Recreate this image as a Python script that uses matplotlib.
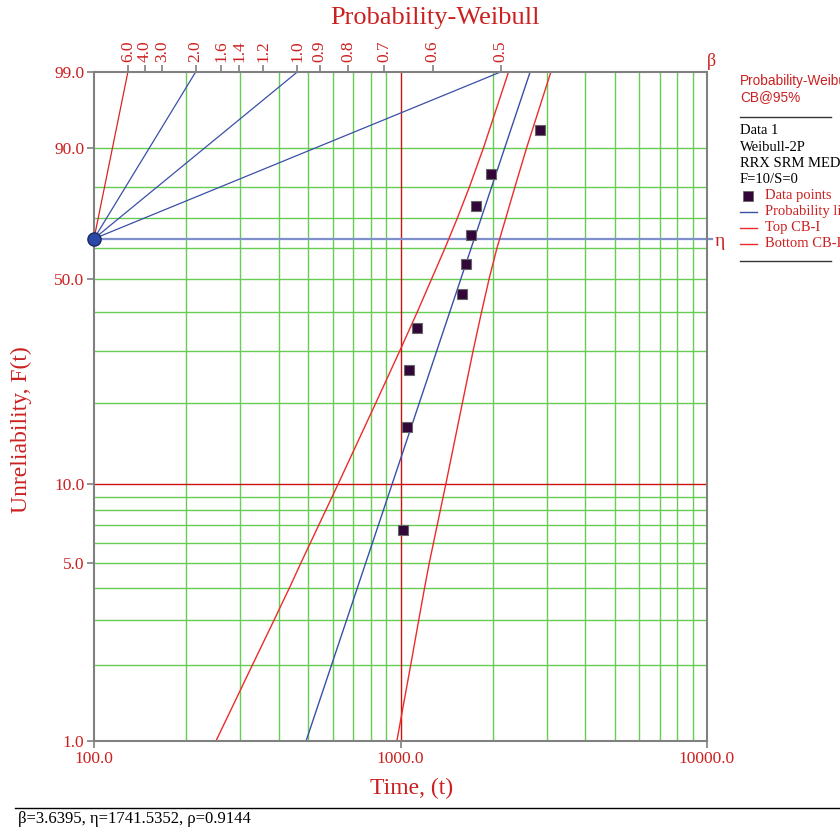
import numpy as np
import matplotlib
matplotlib.use("Agg")
import matplotlib.pyplot as plt
from matplotlib.lines import Line2D

# ---------------- data ----------------
beta_est, eta_est, rho_est = 3.6395, 1741.5352, 0.9144
data_t = [1020, 1048, 1067, 1130, 1592, 1637, 1699, 1768, 1968, 2858]
data_F = [6.73, 16.35, 25.96, 35.58, 45.19, 54.81, 64.42, 74.04, 83.65, 93.27]

fit_F = [1, 99]
fit_t = [492, 2648]

cb_F = [1, 2, 3, 4, 5, 10, 20, 30, 40, 50, 60, 70, 80, 90, 99]
top_cb_t = [250, 329, 387, 434, 473, 625, 832, 993, 1134, 1264, 1396, 1531, 1679, 1866, 2251]
bot_cb_t = [973, 1080, 1147, 1198, 1241, 1405, 1593, 1724, 1838, 1946, 2063, 2204, 2363, 2580, 3095]

y_ticks = [1, 5, 10, 50, 90, 99]
x_ticks = [100, 1000, 10000]
beta_ticks = [6.0, 4.0, 3.0, 2.0, 1.6, 1.4, 1.2, 1.0, 0.9, 0.8, 0.7, 0.6, 0.5]
beta_red_lines = [6.0]
beta_blue_lines = [2.0, 1.0, 0.5]

grid_F_green = [2, 3, 4, 5, 6, 7, 8, 9, 20, 30, 40, 50, 60, 70, 80, 90]
grid_F_red = [10]
grid_t_green = [200, 300, 400, 500, 600, 700, 800, 900,
                2000, 3000, 4000, 5000, 6000, 7000, 8000, 9000]
grid_t_red = [1000]

# ---------------- style ----------------
RED = '#cc2020'
GREEN = '#66cc55'
BLUE = '#3a4fa8'
CBRED = '#ee2a2a'
SERIF = ['Liberation Serif', 'DejaVu Serif']
SANS = ['Liberation Sans', 'DejaVu Sans']
plt.rcParams['font.family'] = SERIF

W, H = 840, 831
fig = plt.figure(figsize=(W / 100, H / 100), dpi=100)


def px(x):
    return x / W


def py(y):
    return 1 - y / H


L, R, T, B = 94, 707, 72, 741
ax = fig.add_axes([px(L), py(B), (R - L) / W, (B - T) / H])


def fwd(F):
    F = np.asarray(F, dtype=float)
    with np.errstate(all='ignore'):
        Fc = np.clip(F, 1e-6, 100 - 1e-6)
        return np.log(-np.log(1 - Fc / 100.0))


def inv(w):
    w = np.asarray(w, dtype=float)
    with np.errstate(all='ignore'):
        return 100.0 * (1 - np.exp(-np.exp(w)))


ax.set_xscale('log')
ax.set_yscale('function', functions=(fwd, inv))
ax.set_xlim(100, 10000)
ax.set_ylim(1, 99)

# grid
for f in grid_F_green:
    ax.axhline(f, color=GREEN, lw=1.0, zorder=1)
for f in grid_F_red:
    ax.axhline(f, color='#cc1111', lw=1.0, zorder=1.2)
for t in grid_t_green:
    ax.axvline(t, color=GREEN, lw=1.0, zorder=1)
for t in grid_t_red:
    ax.axvline(t, color='#cc1111', lw=1.0, zorder=1.2)

# beta nomograph
F_eta = 100 * (1 - np.exp(-1))
W_TOP = float(fwd(99))


def beta_pos(b):
    return 100 * np.exp(W_TOP / b)


for b in beta_red_lines:
    ax.plot([100, beta_pos(b)], [F_eta, 99], color='#dd2222', lw=0.9, zorder=3, clip_on=False)
for b in beta_blue_lines:
    ax.plot([100, beta_pos(b)], [F_eta, 99], color=BLUE, lw=0.9, zorder=3, clip_on=False)

# eta line
ax.plot([100, 10000 * 1.04], [F_eta, F_eta], color='#7f8fcc', lw=1.6, zorder=2, clip_on=False)
ax.plot([100], [F_eta], marker='o', ms=9.5, mfc='#2a48a8', mec='#1a2a60', mew=1.0,
        zorder=10, clip_on=False)

# fit + bounds
ax.plot(fit_t, fit_F, color=BLUE, lw=1.0, zorder=4)
ax.plot(top_cb_t, cb_F, color=CBRED, lw=1.0, zorder=4)
ax.plot(bot_cb_t, cb_F, color=CBRED, lw=1.0, zorder=4)

# data points
ax.plot(data_t, data_F, ls='none', marker='s', ms=7.5, mfc='#33063a', mec='#666666',
        mew=0.8, zorder=6)

# axes styling
for s in ax.spines.values():
    s.set_color('#808080')
    s.set_linewidth(1.5)
    s.set_zorder(5)

ax.xaxis.set_major_locator(matplotlib.ticker.FixedLocator(x_ticks))
ax.xaxis.set_minor_locator(matplotlib.ticker.NullLocator())
ax.set_xticklabels([f'{v:.1f}' for v in x_ticks])
ax.yaxis.set_major_locator(matplotlib.ticker.FixedLocator(y_ticks))
ax.yaxis.set_minor_locator(matplotlib.ticker.NullLocator())
ax.set_yticklabels([f'{v:.1f}' for v in y_ticks])
ax.tick_params(axis='both', colors='#808080', labelcolor=RED, labelsize=12.5,
               length=5, width=1.2, direction='out')
ax.tick_params(axis='y', pad=2)
ax.tick_params(axis='x', pad=2)

sec = ax.secondary_xaxis('top')
sec.set_xticks([beta_pos(b) for b in beta_ticks], labels=[f'{b:.1f}' for b in beta_ticks])
sec.xaxis.set_minor_locator(matplotlib.ticker.NullLocator())
sec.tick_params(axis='x', colors='#808080', labelcolor=RED, labelsize=12.5, length=5,
                width=1.2, labelrotation=90, pad=2)
sec.spines['top'].set_visible(False)

# labels
fig.text(px(435), py(18), 'Probability-Weibull', color=RED, fontsize=19,
         ha='center', va='center')
fig.text(px(412), py(788), 'Time, (t)', color=RED, fontsize=17, ha='center', va='center')
fig.text(px(21), py(430), 'Unreliability, F(t)', color=RED, fontsize=17, ha='center',
         va='center', rotation=90)
fig.text(px(711), py(62), 'β', color=RED, fontsize=13, ha='center', va='center')
fig.text(px(720), py(241), 'η', color=RED, fontsize=14, ha='center', va='center')

# legend panel (cut by the right edge, as in the original)
fig.text(px(740), py(81), 'Probability-Weibull', color=RED, fontsize=9.8,
         family=SANS, ha='left', va='center')
fig.text(px(740), py(97), 'CB@95%', color=RED, fontsize=9.8, family=SANS,
         ha='left', va='center')
fig.add_artist(Line2D([px(740), px(831)], [py(117), py(117)], color='#333333', lw=1,
                      transform=fig.transFigure))
info = ['Data 1', 'Weibull-2P', 'RRX SRM MED FM', 'F=10/S=0']
for i, s in enumerate(info):
    fig.text(px(740), py(131 + 16.2 * i), s, color='black', fontsize=10.5,
             ha='left', va='center')
items = [('Data points', 'marker'), ('Probability line', BLUE),
         ('Top CB-I', CBRED), ('Bottom CB-I', CBRED)]
for i, (lab, kind) in enumerate(items):
    yy = 195.5 + 16 * i
    if kind == 'marker':
        fig.add_artist(Line2D([px(748)], [py(yy)], ls='none', marker='s', ms=6.5,
                              mfc='#33063a', mec='#666666', mew=0.6,
                              transform=fig.transFigure))
    else:
        fig.add_artist(Line2D([px(740), px(757)], [py(yy), py(yy)], color=kind, lw=1,
                              transform=fig.transFigure))
    fig.text(px(765), py(yy), lab, color=RED, fontsize=10.5, ha='left', va='center')
fig.add_artist(Line2D([px(740), px(831)], [py(261), py(261)], color='#333333', lw=1,
                      transform=fig.transFigure))

# footer
fig.add_artist(Line2D([px(15), px(840)], [py(808), py(808)], color='black', lw=1,
                      transform=fig.transFigure))
fig.text(px(18), py(819), f'β={beta_est}, η={eta_est}, ρ={rho_est}', color='black',
         fontsize=12, ha='left', va='center')

fig.savefig('out.png', dpi=100)
